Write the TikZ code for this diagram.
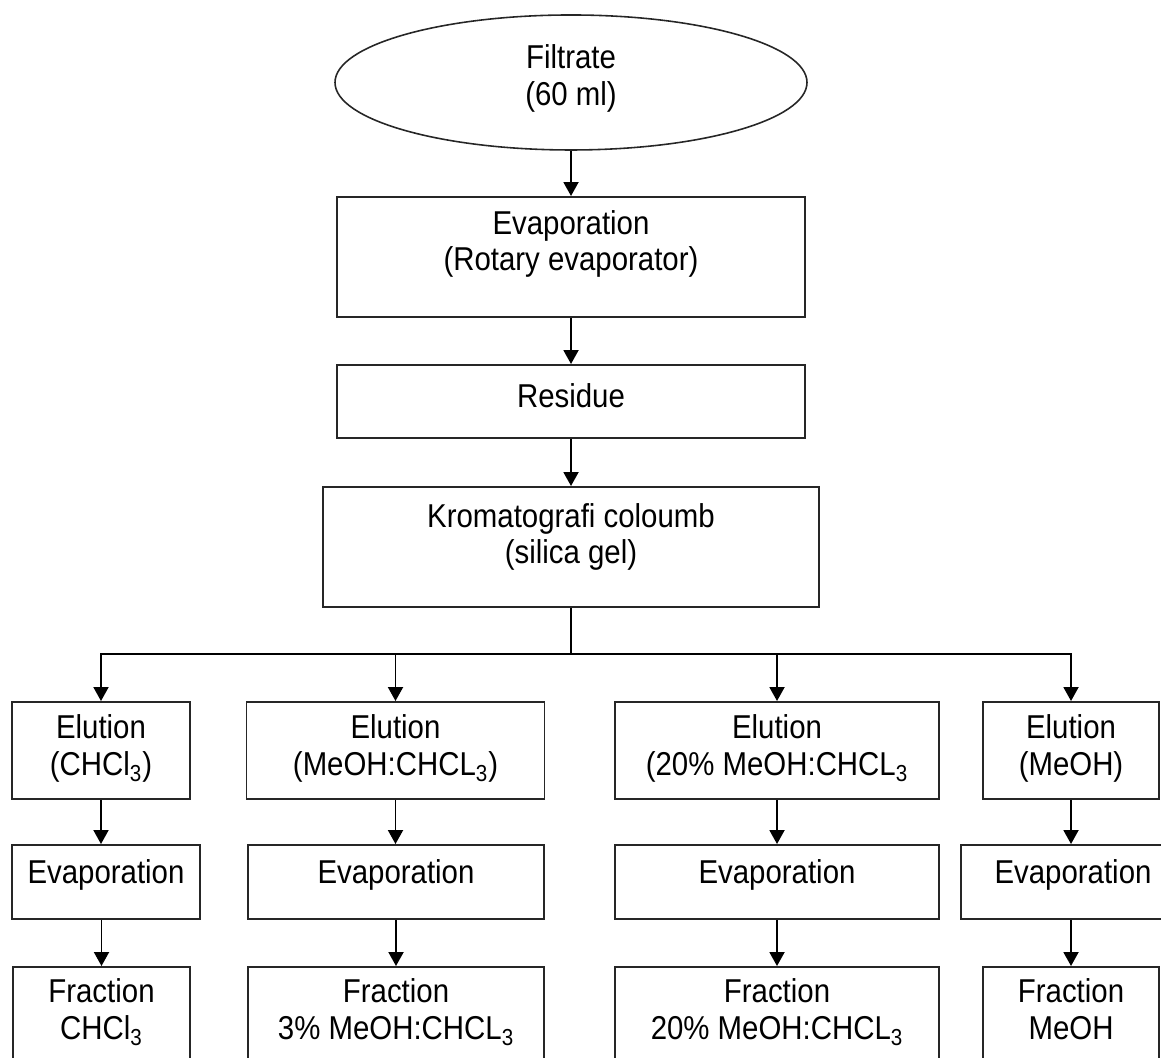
\documentclass[tikz,border=0pt]{standalone}
\usepackage{fontspec}
\setmainfont{Liberation Sans}[FakeStretch=0.89]
\usetikzlibrary{shapes.geometric,arrows.meta}

\begin{document}
\begin{tikzpicture}[>={Triangle[length=0.28cm,width=0.3cm]},
        box/.style={draw=black!85, line width=1.1pt, align=center, inner sep=0pt,
            font=\fontsize{18.8pt}{21pt}\selectfont},
        fleche/.style={->, line width=1.1pt}]
        % --- cadre de l'image ---
        \useasboundingbox (0,0) rectangle (23.22,21.14);
        \clip (0,0) rectangle (23.22,21.14);

        % --- Filtrat et traitement ---
        \node[box, ellipse, line width=0.9pt, minimum width=9.44cm, minimum height=2.7cm, text depth=0.30cm]
            (filtrate) at (11.42,19.49) {Filtrate\\(60 ml)};
        \node[box, minimum width=9.36cm, minimum height=2.4cm, text depth=0.66cm]
            (evap) at (11.42,16.00) {Evaporation\\(Rotary evaporator)};
        \node[box, minimum width=9.36cm, minimum height=1.46cm, text depth=0.24cm]
            (residue) at (11.42,13.11) {Residue};
        \node[box, minimum width=9.92cm, minimum height=2.4cm, text depth=0.54cm]
            (kolom) at (11.42,10.20) {Kromatografi coloumb\\(silica gel)};
        \coordinate (split) at (11.42,8.06);

        % --- Elution ---
        \tikzset{elu/.style={box, minimum height=1.94cm, text depth=0.22cm}}
        \node[elu, minimum width=3.56cm] (elu1) at (2.02,6.13) {Elution\\(CHCl\textsubscript{3})};
        \node[elu, minimum width=5.96cm] (elu2) at (7.91,6.13) {Elution\\(MeOH:CHCL\textsubscript{3})};
        \node[elu, minimum width=6.48cm] (elu3) at (15.54,6.13) {Elution\\(20\% MeOH:CHCL\textsubscript{3}};
        \node[elu, minimum width=3.52cm] (elu4) at (21.42,6.13) {Elution\\(MeOH)};

        % --- Evaporation ---
        \tikzset{vap/.style={box, minimum height=1.48cm, text depth=0.42cm}}
        \node[vap, minimum width=3.76cm] (evap1) at (2.12,3.50) {Evaporation};
        \node[vap, minimum width=5.92cm] (evap2) at (7.92,3.50) {Evaporation};
        \node[vap, minimum width=6.48cm] (evap3) at (15.54,3.50) {Evaporation};
        \node[vap, minimum width=4.48cm] (evap4) at (21.46,3.50) {Evaporation};

        % --- Fractions ---
        \tikzset{frac/.style={box, minimum height=1.94cm, text depth=0.26cm}}
        \node[frac, minimum width=3.54cm] (frac1) at (2.03,0.83) {Fraction\\CHCl\textsubscript{3}};
        \node[frac, minimum width=5.92cm] (frac2) at (7.92,0.83) {Fraction\\3\% MeOH:CHCL\textsubscript{3}};
        \node[frac, minimum width=6.48cm] (frac3) at (15.54,0.83) {Fraction\\20\% MeOH:CHCL\textsubscript{3}};
        \node[frac, minimum width=3.52cm] (frac4) at (21.42,0.83) {Fraction\\MeOH};

        % --- Fleches ---
        \draw[fleche] (filtrate) -- (evap);
        \draw[fleche] (evap) -- (residue);
        \draw[fleche] (residue) -- (kolom);
        \draw[line width=1.1pt] (kolom) -- (split);
        \draw[fleche] (split) -| (elu1);
        \draw[fleche] (split) -| (elu4);
        \draw[fleche] (split -| elu2) -- (elu2);
        \draw[fleche] (split -| elu3) -- (elu3);
        \foreach \i in {1,...,4} {
            \draw[fleche] (elu\i.south) -- (elu\i.south |- evap\i.north);
            \draw[fleche] (frac\i.north |- evap\i.south) -- (frac\i.north);
        }
\end{tikzpicture}
\end{document}
